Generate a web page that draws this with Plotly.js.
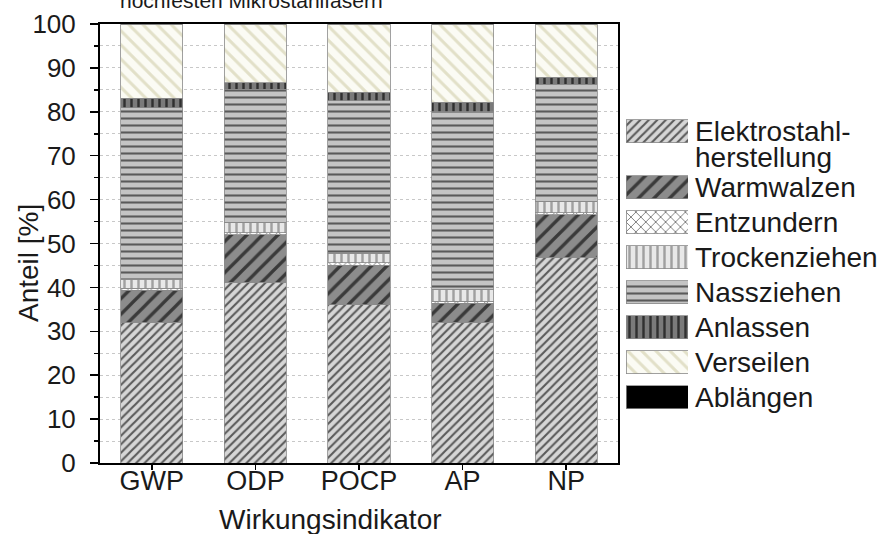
<!DOCTYPE html>
<html>
<head>
<meta charset="utf-8">
<script src="https://cdn.plot.ly/plotly-3.0.1.min.js"></script>
<style>html,body{margin:0;padding:0;background:#fff;}#chart{width:885px;height:534px;}</style>
</head>
<body>
<div id="chart"></div>
<script>
// ---- data ----
const categories = ['GWP', 'ODP', 'POCP', 'AP', 'NP'];
const seriesNames = ['Elektrostahlherstellung', 'Warmwalzen', 'Entzundern', 'Trockenziehen', 'Nassziehen', 'Anlassen', 'Verseilen', 'Ablängen'];
const legendLabels = ['Elektrostahl-<br>herstellung', 'Warmwalzen', 'Entzundern', 'Trockenziehen', 'Nassziehen', 'Anlassen', 'Verseilen', 'Ablängen'];
const elektrostahl = [32.1, 41.2, 36.0, 32.1, 46.9];
const warmwalzen   = [7.2, 10.8, 9.1, 4.3, 9.6];
const entzundern   = [0.5, 0.5, 0.5, 0.5, 0.5];
const trockenziehen= [2.1, 2.2, 2.2, 2.7, 2.5];
const nassziehen   = [39.0, 30.4, 34.7, 40.4, 26.8];
const anlassen     = [2.2, 1.5, 2.0, 2.2, 1.6];
const verseilen    = [16.7, 13.2, 15.3, 17.6, 11.9];
const ablaengen    = [0.2, 0.2, 0.2, 0.2, 0.2];
const seriesValues = [elektrostahl, warmwalzen, entzundern, trockenziehen, nassziehen, anlassen, verseilen, ablaengen];
const yTitle = 'Anteil [%]';
const xTitle = 'Wirkungsindikator';
const topTitle = 'hochfesten Mikrostahlfasern';

// ---- styles ----
const FONT = 'Liberation Sans, Arial, sans-serif';
const TXT = '#1a1a1a';
const patterns = [
  {shape: '/', bgcolor: '#d6d6d6', fgcolor: '#5a5a5a', size: 6, solidity: 0.35},
  {shape: '/', bgcolor: '#8c8c8c', fgcolor: '#3a3a3a', size: 11, solidity: 0.3},
  {shape: 'x', bgcolor: '#ffffff', fgcolor: '#555555', size: 7, solidity: 0.2},
  {shape: '|', bgcolor: '#e8e8e8', fgcolor: '#a0a0a0', size: 7, solidity: 0.35},
  {shape: '-', bgcolor: '#c4c4c4', fgcolor: '#5a5a5a', size: 7, solidity: 0.3},
  {shape: '|', bgcolor: '#7a7a7a', fgcolor: '#303030', size: 7, solidity: 0.35},
  {shape: '\\', bgcolor: '#fbfbf4', fgcolor: '#e2e0c8', size: 10, solidity: 0.3},
  null
];
const solidColors = ['#d6d6d6', '#8c8c8c', '#ffffff', '#e8e8e8', '#c4c4c4', '#7a7a7a', '#fbfbf4', '#000000'];

function markerFor(i) {
  const m = {color: solidColors[i], line: {color: '#8a8a8a', width: 0.8}};
  if (patterns[i]) m.pattern = Object.assign({fillmode: 'replace'}, patterns[i]);
  return m;
}

const W = 885, H = 534, ML = 100, MR = 3, MT = 24, MB = 71;
const plotW = W - ML - MR, plotH = H - MT - MB;
const mainRight = 618;
const px2x = p => (p - ML) / plotW;           // pixel -> paper x
const px2y = p => (H - MB - p) / plotH;        // pixel -> paper y

const traces = seriesNames.map((name, i) => ({
  type: 'bar', name: name, x: categories, y: seriesValues[i],
  marker: markerFor(i), showlegend: false, hoverinfo: 'name+y', width: 0.6
}));

// legend built as a second (hidden) subplot, y value == pixel row
const rowY = seriesNames.map((_, i) => 131 + 35 * i + (i > 0 ? 21 : 0));
seriesNames.forEach((name, i) => {
  traces.push({
    type: 'bar', orientation: 'h', x: [1], y: [rowY[i]], base: 0, width: 23,
    xaxis: 'x2', yaxis: 'y2', marker: markerFor(i), showlegend: false, hoverinfo: 'skip'
  });
});

const annotations = [];
legendLabels.forEach((lab, i) => {
  lab.split('<br>').forEach((line, k) => {
    annotations.push({
      text: line, xref: 'x2', yref: 'y2', x: 1, y: rowY[i] + 26 * k,
      xanchor: 'left', yanchor: 'middle', align: 'left', xshift: 5,
      showarrow: false, font: {family: FONT, size: 28, color: TXT}
    });
  });
});
annotations.push({
  text: topTitle, xref: 'paper', yref: 'paper', x: px2x(118), y: px2y(14),
  xanchor: 'left', yanchor: 'bottom', showarrow: false,
  font: {family: FONT, size: 21, color: TXT}
});
annotations.push({
  text: xTitle, xref: 'paper', yref: 'paper', x: px2x(330), y: px2y(519),
  xanchor: 'center', yanchor: 'middle', showarrow: false,
  font: {family: FONT, size: 28, color: TXT}
});
annotations.push({
  text: yTitle, xref: 'paper', yref: 'paper', x: px2x(28), y: px2y(263),
  xanchor: 'center', yanchor: 'middle', textangle: -90, showarrow: false,
  font: {family: FONT, size: 28, color: TXT}
});

const layout = {
  width: W, height: H,
  margin: {l: ML, r: MR, t: MT, b: MB, pad: 0},
  paper_bgcolor: '#ffffff', plot_bgcolor: '#ffffff',
  barmode: 'stack', bargap: 0.4,
  font: {family: FONT, size: 24, color: TXT},
  xaxis: {
    domain: [0, px2x(mainRight)], type: 'category',
    showline: true, linecolor: '#000', linewidth: 2, mirror: true,
    ticks: 'outside', ticklen: 5, tickwidth: 1.5, tickcolor: '#000',
    tickfont: {family: FONT, size: 27, color: TXT}, ticklabelstandoff: -12,
    showgrid: false, automargin: false
  },
  yaxis: {
    range: [0, 100], dtick: 10, tick0: 0,
    showline: true, linecolor: '#000', linewidth: 2, mirror: true,
    ticks: 'outside', ticklen: 8, tickwidth: 1.5, tickcolor: '#000',
    tickfont: {family: FONT, size: 26, color: TXT},
    showgrid: true, gridcolor: '#c8c8c8', griddash: 'dot', gridwidth: 1,
    minor: {dtick: 5, ticks: 'outside', ticklen: 4, tickcolor: '#000', showgrid: true, gridcolor: '#c8c8c8', griddash: 'dot', gridwidth: 1},
    zeroline: false, automargin: false, ticklabelstandoff: 9
  },
  xaxis2: {domain: [px2x(626), px2x(688)], range: [0, 1], anchor: 'y2', visible: false, fixedrange: true},
  yaxis2: {domain: [0, 1], range: [H - MB, MT], anchor: 'x2', visible: false, fixedrange: true},
  annotations: annotations
};

Plotly.newPlot('chart', traces, layout, {displayModeBar: false, staticPlot: true});
</script>
</body>
</html>
